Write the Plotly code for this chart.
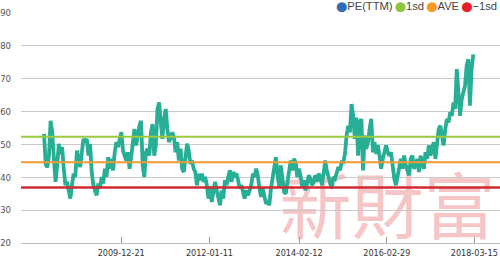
import pandas as pd
import plotly.graph_objects as go

# ---- data ----
start_date = "2008-03-04"
step = "14D"
pe_ttm = [
    53.2, 44.0, 43.0, 46.6, 57.2, 53.7, 45.6, 38.6, 43.6, 50.2, 47.1, 49.2, 42.6, 37.6, 38.6, 35.0,
    33.5, 37.6, 41.1, 40.1, 48.1, 45.6, 43.1, 47.6, 51.7, 50.7, 51.7, 46.6, 50.2, 41.6, 37.6, 36.0,
    34.5, 38.1, 36.6, 40.1, 38.1, 42.6, 40.1, 46.1, 42.6, 45.6, 42.1, 47.6, 50.7, 49.2, 51.7, 53.7,
    48.1, 46.6, 45.1, 47.6, 42.6, 46.1, 51.7, 54.7, 49.7, 53.2, 55.7, 57.2, 43.6, 40.1,
    47.6, 48.7, 46.6, 53.7, 56.2, 46.6, 49.7, 60.8, 62.8, 56.7, 51.7, 57.7, 60.8, 54.7, 50.7, 52.2,
    53.7, 52.2, 47.6, 50.7, 45.1, 48.7, 42.6, 41.6, 46.6, 50.2, 48.1, 44.1, 45.1, 42.6, 41.6, 37.6,
    41.1, 39.1, 41.1, 38.6, 40.1, 37.6, 33.5, 37.1, 32.5, 36.6, 38.6, 36.0, 33.0, 31.5, 36.0, 33.5,
    39.1, 37.6, 40.1, 42.1, 38.6, 41.6, 40.6, 41.1, 39.1, 36.6, 37.6, 36.0, 33.5, 36.0, 34.5, 36.0,
    37.6,
    41.1, 40.1, 42.6, 40.6, 36.6, 34.0, 36.6, 33.5, 32.0, 32.5, 31.5, 36.6, 40.1, 44.1, 46.1, 40.6,
    37.1, 43.6, 39.6, 35.5, 35.0, 39.1, 42.1, 45.1, 42.1, 45.6, 44.6, 40.1, 42.6, 40.6, 37.1, 39.1,
    36.0, 38.6, 40.6, 39.6, 37.6, 38.6, 40.6, 38.6, 41.1, 40.1, 37.6, 41.1, 45.1, 42.1, 39.6, 38.1,
    36.6, 40.1, 39.6, 41.6, 43.1, 42.1, 44.6, 44.6, 47.1, 52.7, 55.7, 53.7, 62.3, 58.7, 51.7, 58.2,
    46.6, 56.7,
    57.7, 42.1, 52.7, 48.7, 50.7, 54.7, 57.8, 47.6, 50.7, 47.1, 49.7, 46.6, 42.6, 45.6, 47.6, 49.7,
    47.6, 46.6, 47.6, 42.6, 39.6, 37.6, 40.6, 43.6, 45.6, 42.6, 46.6, 43.6, 41.6, 40.6, 45.6, 46.6,
    42.6, 43.6, 45.6, 41.6, 46.6, 44.6, 42.6, 47.6, 45.6, 49.7, 46.6, 48.7, 50.7, 45.6, 51.7, 54.7,
    55.7, 52.7, 49.7, 54.7, 57.7, 56.7, 59.8, 58.7, 62.8, 60.8, 72.9, 65.8, 58.7, 63.8, 65.8, 67.8,
    73.9, 75.9, 61.8, 72.9, 77.4,
]
sd_plus = 52.3
average = 44.6
sd_minus = 36.9
x_tick_labels = ["2009-12-21", "2012-01-11", "2014-02-12", "2016-02-29", "2018-03-15"]
y_ticks = [20, 30, 40, 50, 60, 70, 80, 90]
legend_names = ["PE(TTM)", "1sd", "AVE", "\u22121sd"]
watermark = "新財富"

dates = pd.date_range(start=start_date, periods=len(pe_ttm), freq=step)

PE_COLOR = "#27ae95"
SD_PLUS_COLOR = "#9acb3c"
AVE_COLOR = "#f39a33"
SD_MINUS_COLOR = "#cf2a32"
LEG_COLORS = ["#2f6db5", "#8cc63f", "#f59b25", "#e41f2b"]

NARROW = "Liberation Sans Narrow, DejaVu Sans Condensed, Arial Narrow, sans-serif"

fig = go.Figure()

fig.add_trace(go.Scatter(
    x=dates, y=pe_ttm, mode="lines",
    line=dict(color=PE_COLOR, width=3.8),
    name=legend_names[0], showlegend=False, hoverinfo="skip",
))

for val, col, w in [(sd_plus, SD_PLUS_COLOR, 2), (average, AVE_COLOR, 2), (sd_minus, SD_MINUS_COLOR, 2.4)]:
    fig.add_hline(y=val, line=dict(color=col, width=w), layer="above")

# watermark, drawn between grid and data
fig.add_shape(
    type="rect", xref="paper", yref="paper", x0=0.54, x1=0.99, y0=-0.05, y1=0.31,
    line=dict(width=0), fillcolor="rgba(0,0,0,0)", layer="between",
    label=dict(text=watermark, textposition="middle center",
               font=dict(family="Noto Sans CJK TC", size=72, color="rgba(238,140,140,0.5)")),
)

legend_text = "".join(
    f"<span style='color:{c};font-family:DejaVu Sans;font-size:10px'>\u2b24</span>{n}" + ("&#8201;" if i < 3 else "")
    for i, (c, n) in enumerate(zip(LEG_COLORS, legend_names))
)
fig.add_annotation(
    text=legend_text, xref="paper", yref="paper", x=1, y=1.028,
    xanchor="right", yanchor="middle", showarrow=False, xshift=-1,
    font=dict(family="Liberation Sans, Arial, sans-serif", size=11.2, color="#444"),
)

fig.update_layout(
    width=500, height=258,
    margin=dict(l=16, r=0, t=13, b=13),
    paper_bgcolor="white", plot_bgcolor="white",
    showlegend=False,
    xaxis=dict(
        type="date", range=["2007-08-21", "2018-10-20"],
        tickvals=x_tick_labels, ticktext=x_tick_labels,
        ticks="inside", ticklen=6, tickcolor="#999", tickwidth=1,
        showgrid=False, zeroline=False,
        showline=True, linecolor="#bdbdbd", linewidth=1.3,
        tickfont=dict(family=NARROW, size=9, color="#333"),
        ticklabelstandoff=1,
    ),
    yaxis=dict(
        range=[20, 90], tickvals=y_ticks,
        showgrid=True, gridcolor="#c9c9c9", gridwidth=1.3,
        zeroline=False, showline=False, ticks="",
        tickfont=dict(family=NARROW, size=9.5, color="#555"),
        ticklabelstandoff=9,
    ),
)

fig.write_html("out.html")
